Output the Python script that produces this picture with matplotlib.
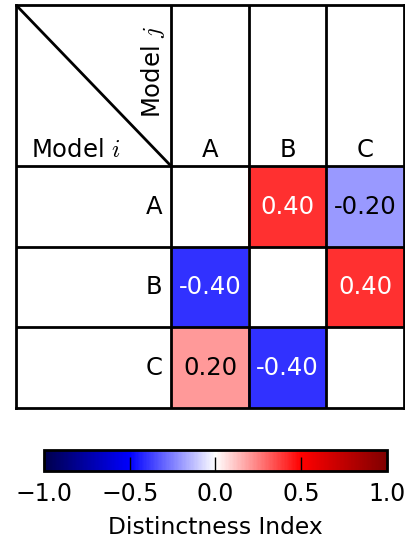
import numpy as np
import matplotlib
matplotlib.use('Agg')
import matplotlib.pyplot as plt
from matplotlib.colors import Normalize

plt.rcParams['mathtext.fontset'] = 'cm'

models = ['A', 'B', 'C']
# distinctness index of model i (rows) against model j (columns)
di = np.array([[np.nan, 0.40, -0.20],
               [-0.40, np.nan, 0.40],
               [0.20, -0.40, np.nan]])

fig = plt.figure(figsize=(4.06, 5.41), dpi=100)
W, H = 406.0, 541.0

# table area: header column/row are 2 units, each model cell 1 unit
ax = fig.add_axes([16 / W, (H - 408) / H, (404 - 16) / W, (408 - 5) / H])
n = len(models)
ax.set_xlim(0, n + 2)
ax.set_ylim(n + 2, 0)

cmap = plt.get_cmap('seismic')
norm = Normalize(vmin=-1, vmax=1)
im = ax.imshow(di, cmap=cmap, norm=norm, extent=[2, n + 2, n + 2, 2],
               interpolation='nearest', aspect='auto')

lw = 2.0
for k in range(2, n + 2):
    ax.axvline(k, color='k', lw=lw)
    ax.axhline(k, color='k', lw=lw)
ax.plot([0, 2], [0, 2], color='k', lw=lw)
for s in ax.spines.values():
    s.set_linewidth(lw)
ax.set_xticks([])
ax.set_yticks([])

fs = 17.5
ax.text(0.19, 1.89, 'Model $i$', fontsize=fs, ha='left', va='baseline')
ax.text(1.94, 0.26, 'Model $j$', fontsize=fs, ha='right', va='top', rotation=90)

for k, m in enumerate(models):
    ax.text(2.5 + k, 1.88, m, fontsize=fs, ha='center', va='baseline')
    ax.text(1.89, 2.5 + k, m, fontsize=fs, ha='right', va='center')

for i in range(n):
    for j in range(n):
        v = di[i, j]
        if np.isnan(v):
            continue
        c = 'white' if abs(v) > 0.3 else 'black'
        ax.text(2.5 + j, 2.5 + i, '%.2f' % v, fontsize=fs, ha='center',
                va='center', color=c)

cax = fig.add_axes([44 / W, (H - 471) / H, (387 - 44) / W, 21 / H])
cb = fig.colorbar(im, cax=cax, orientation='horizontal')
cb.set_ticks([-1.0, -0.5, 0.0, 0.5, 1.0])
cb.ax.tick_params(direction='in', length=10, width=1, labelsize=17, pad=8)
cb.outline.set_linewidth(lw)
cb.set_label('Distinctness Index', fontsize=16.8, labelpad=7)

fig.savefig('out.png', dpi=100)
